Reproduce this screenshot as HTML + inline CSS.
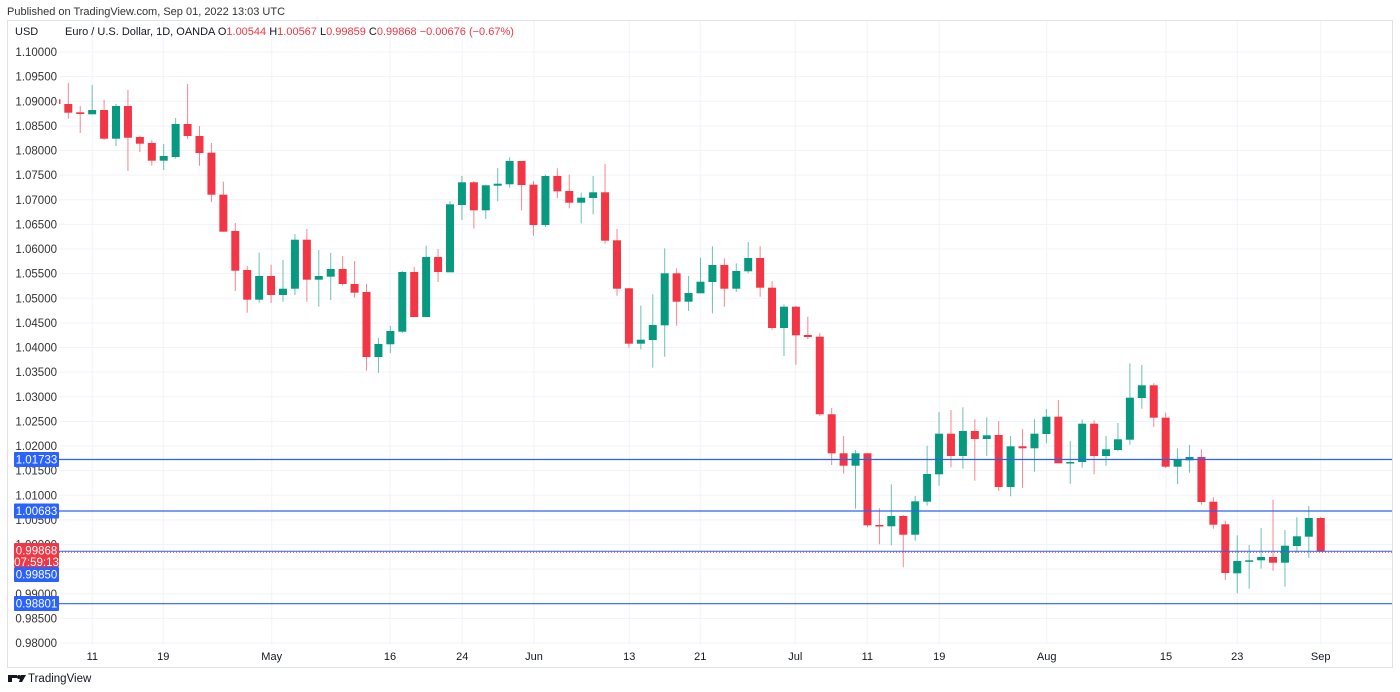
<!DOCTYPE html>
<html><head><meta charset="utf-8">
<style>
html,body{margin:0;padding:0;background:#fff;width:1400px;height:692px;overflow:hidden;font-family:"Liberation Sans",sans-serif;}
svg text{font-family:"Liberation Sans",sans-serif;}
</style></head>
<body>
<svg id="c" width="1400" height="692" xmlns="http://www.w3.org/2000/svg">
<text x="7" y="15" font-size="11" fill="#333">Published on TradingView.com, Sep 01, 2022 13:03 UTC</text>
<rect x="7.5" y="20.5" width="1385" height="647" fill="none" stroke="#e0e3eb"/>
<g id="grid"></g>
<g id="cand"></g>
<g id="lines"></g>
<text x="15" y="35" font-size="11" fill="#131722">USD</text>
<text x="65" y="35" font-size="11" fill="#131722">Euro / U.S. Dollar, 1D, OANDA  O<tspan fill="#f23645">1.00544</tspan>  H<tspan fill="#f23645">1.00567</tspan>  L<tspan fill="#f23645">0.99859</tspan>  C<tspan fill="#f23645">0.99868</tspan>  <tspan fill="#f23645">−0.00676 (−0.67%)</tspan></text>
<g id="ax"></g>
<g transform="translate(8,673)"><rect x="0" y="2" width="4" height="7" fill="#131722"/><rect x="0" y="2" width="9" height="3" fill="#131722"/><circle cx="11" cy="4" r="2" fill="#131722"/><polygon points="13,2 18,2 14,9 11,9" fill="#131722"/></g>
<text x="28" y="682" font-size="11.5" fill="#131722">TradingView</text>
</svg>
<script>
var NS="http://www.w3.org/2000/svg";
function el(p,t,a,txt){var e=document.createElementNS(NS,t);for(var k in a)e.setAttribute(k,a[k]);if(txt!=null)e.textContent=txt;document.getElementById(p).appendChild(e);return e;}
var labs=["1.10000","1.09500","1.09000","1.08500","1.08000","1.07500","1.07000","1.06500","1.06000","1.05500","1.05000","1.04500","1.04000","1.03500","1.03000","1.02500","1.02000","1.01500","1.01000","1.00500","1.00000","0.99500","0.99000","0.98500","0.98000"];
for(var i=0;i<labs.length;i++){var y=52+i*24.625;
el("grid","line",{x1:59,x2:1392,y1:y,y2:y,stroke:"#f0f3fa","stroke-width":1});
el("ax","text",{x:57,y:y+4,"font-size":11.5,fill:"#333","text-anchor":"end"},labs[i]);}
var vx=[[92.3,"11"],[163.3,"19"],[271.7,"May"],[390,"16"],[462.3,"24"],[534,"Jun"],[629.3,"13"],[700.3,"21"],[795.3,"Jul"],[867.3,"11"],[939.3,"19"],[1046.7,"Aug"],[1166,"15"],[1237.3,"23"],[1320.7,"Sep"]];
vx.forEach(function(v){el("grid","line",{x1:v[0],x2:v[0],y1:21,y2:645,stroke:"#f0f3fa","stroke-width":1});
el("ax","text",{x:v[0],y:660,"font-size":11,fill:"#131722","text-anchor":"middle"},v[1]);});
var d=[
"r 99.3 104 98 105","r 104 112.7 83 118.7","r 112.3 114 106 133","g 110 114.3 85 114.3","r 110 138.7 100 140","g 106 138.7 104 146","r 106 137.7 90 171","r 137 143.7 135.7 152","r 143 160.7 140 165.7","g 156 160.7 144 170",
"g 124 157 118 158.7","r 124 136 84 139","r 136 153 126 165.7","r 152.7 194.7 143 202","r 194.7 231.7 181.7 231.7","r 231 270.7 223 291","r 270 299.7 266 312.7","g 276 299.7 252.7 302.7","r 276 295 264.7 303","g 288.7 295 260 301.7",
"g 239.7 288.7 234 295","r 239.7 279.7 229 301.7","g 276 279.7 250 306.7","g 269 276.7 253 300","r 269 284 256 285.7","r 284 292.7 261 297.7","r 292 357 283.7 370.7","g 344 357 338 372.7","g 331 344.3 326 353","g 272 331.7 271 333",
"r 272 317 267 317","g 257 317 245.7 317","r 257 272 249 282","g 204.3 272.3 201.3 272.3","g 182.3 205 176 220","r 182.3 210.3 181 228.7","g 185.3 210.3 184.7 219","g 183.7 185.7 168 201.3","g 161 184.3 157.3 187.7","r 161 185 161 210.3",
"r 184.7 225 181 235.7","g 176 225 174.7 227","r 176 191.3 168.3 198.3","r 191 202.7 174.7 208.3","g 197.7 202.7 192.7 223.3","g 192.3 198 176 214.3","r 192.3 240.7 164 243.7","r 240.3 288.7 229 295.7","r 288.3 343.7 288 347.7","g 339.7 343.7 305.7 349.3",
"g 325 340 294.3 367.7","g 273.3 325.3 248.3 356.7","r 273.3 301.7 268.3 325.7","g 293 301.7 276 311","g 281.7 293.3 257.7 293.3","g 265 282 246.3 313.3","r 265 288.7 258.3 306.7","g 271 288.7 263.3 292","g 258 271.3 242 273.3","r 258 287.7 246.3 296.7",
"r 287.7 328 281 330","g 306.7 328 304.3 356","r 306.7 335.3 306 364.7","r 335 337 316.7 339.3","r 336.7 414.3 333 416","r 414.3 453.3 408 465","r 453.3 465.7 436 473.7","g 453.3 465.7 450 508.7","r 453.3 525.3 453 527.3","r 525 526.3 508.3 544.3",
"g 516 526.3 484.3 545.3","r 516 534.7 515 567.3","g 501.3 534.7 496 540.7","g 474 501.7 445.7 505.7","g 433.7 474.3 412 485.7","r 433.7 456 410 467.3","g 431 456 407.3 468.7","r 431 439 419.3 480.7","g 435.3 439 417.3 456","r 435 487 421 491",
"g 446.3 487 436 496.3","r 446.3 448.3 429 488","g 433.7 448.3 419.3 471.7","g 416.7 434 409 443.3","r 416.7 463.3 400 463.3","g 462 463.3 441 483.7","g 423.7 462 419.7 467.7","r 423.7 456 420.3 474.3","g 449.3 456 436 465.7","g 439.3 450 423 451.3",
"g 397.7 439.7 363.3 444.7","g 385.3 398 365 408.7","r 385.3 417.7 383.3 427","r 417.7 466.7 412.7 468","g 460 466.7 448.3 484.3","g 457 460.3 445 472.7","r 457 502 449.3 504.7","r 501.7 524.7 497.3 528.7","r 524.3 573 520.7 580","g 561 573.3 535.3 593.3",
"g 560.3 561.3 545 588.7","g 557 560.3 528 568.7","r 557 562.7 499.7 570.7","g 545.7 562.7 530 586.7","g 536.3 546 517.3 553","g 518 536.7 506 558","r 518 551.7 516.7 551.7"];
el("cand","clipPath",{id:"cp"});
document.getElementById("cp").appendChild((function(){var r=document.createElementNS(NS,"rect");r.setAttribute("x",59);r.setAttribute("y",21);r.setAttribute("width",1333);r.setAttribute("height",624);return r;})());
document.getElementById("cand").setAttribute("clip-path","url(#cp)");
d.forEach(function(s,i){var p=s.split(" "),c=p[0]=="g"?"#089981":"#f23645";
var x=68.3+(i-1)*11.928;var bt=+p[1],bb=+p[2],wt=+p[3],wb=+p[4];
el("cand","line",{x1:x,x2:x,y1:wt,y2:wb,stroke:c,"stroke-width":1,"stroke-opacity":0.6});
el("cand","rect",{x:x-4,y:bt,width:8,height:Math.max(1.5,bb-bt),fill:c});});
[459.5,511,603.7].forEach(function(y){el("lines","line",{x1:59,x2:1392,y1:y,y2:y,stroke:"#2962ff","stroke-width":1.2});});
el("lines","line",{x1:59,x2:1392,y1:551.2,y2:551.2,stroke:"#2962ff","stroke-width":1});
el("lines","line",{x1:59,x2:1392,y1:552.3,y2:552.3,stroke:"#f23645","stroke-width":1,"stroke-dasharray":"1,2"});
function lab(y,h,col,t1,t2){el("ax","rect",{x:14,y:y,width:45,height:h,fill:col,rx:1});
el("ax","text",{x:36.5,y:y+11.5,"font-size":11.5,fill:"#fff","text-anchor":"middle"},t1);
if(t2)el("ax","text",{x:36.5,y:y+23,"font-size":11.5,fill:"#fff","text-anchor":"middle"},t2);}
lab(452,15,"#2962ff","1.01733");
lab(503.5,15,"#2962ff","1.00683");
lab(567,15,"#2962ff","0.99850");
lab(543,24,"#f23645","0.99868","07:59:13");
lab(596,15,"#2962ff","0.98801");
</script>
</body></html>
